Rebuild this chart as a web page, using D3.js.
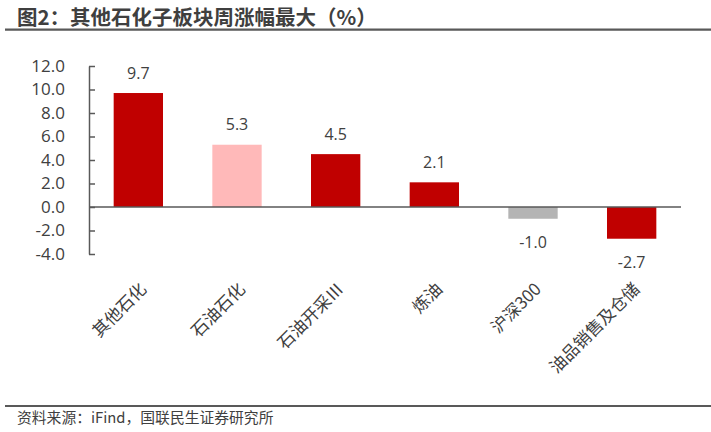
<!DOCTYPE html>
<html><head><meta charset="utf-8">
<script src="https://cdn.jsdelivr.net/npm/d3@7"></script>
<style>
html,body{margin:0;padding:0;background:#fff;}
svg{display:block;}
</style></head>
<body>
<svg id="chart" width="711" height="432"></svg>
<script>
const categories = ["其他石化","石油石化","石油开采Ⅲ","炼油","沪深300","油品销售及仓储"];
const values = [9.7, 5.3, 4.5, 2.1, -1.0, -2.7];
const barColors = ["#C00000","#FFB9B9","#C00000","#C00000","#B4B4B4","#C00000"];
const yTicks = [-4, -2, 0, 2, 4, 6, 8, 10, 12];
const titleText = "图2：其他石化子板块周涨幅最大（%）";
const sourceText = "资料来源：iFind，国联民生证券研究所";

const svg = d3.select("#chart");
const cjk = "'Noto Sans CJK SC','Noto Sans',sans-serif";
const num = "'Open Sans','Noto Sans',sans-serif";
const textColor = "#404040";
const fmt = d => d3.format(".1f")(d).replace("−","-");

// title
svg.append("text").attr("x",17).attr("y",24.5)
  .attr("font-family",cjk).attr("font-weight","bold").attr("font-size",20.5)
  .attr("fill","#3f3f3f").text(titleText);
svg.append("line").attr("x1",5).attr("x2",711).attr("y1",29.7).attr("y2",29.7)
  .attr("stroke","#595959").attr("stroke-width",2.2);

// footer
svg.append("line").attr("x1",5).attr("x2",711).attr("y1",406).attr("y2",406)
  .attr("stroke","#595959").attr("stroke-width",2);
svg.append("text").attr("x",17).attr("y",423)
  .attr("font-family",cjk).attr("font-size",14.8)
  .attr("fill",textColor).text(sourceText);

const x = d3.scaleBand().domain(categories).range([89,681]).padding(0.5).paddingOuter(0.25);
const y = d3.scaleLinear().domain([-4,12]).range([254,66]);

// bars
svg.append("g").selectAll("rect").data(values).join("rect")
  .attr("x",(d,i)=>x(categories[i]))
  .attr("width",x.bandwidth())
  .attr("y",d=>y(Math.max(0,d)))
  .attr("height",d=>Math.abs(y(d)-y(0)))
  .attr("fill",(d,i)=>barColors[i]);

// y axis
const yAxis = d3.axisLeft(y).tickValues(yTicks).tickFormat(fmt)
  .tickSizeInner(-6).tickSizeOuter(0).tickPadding(24);
const gy = svg.append("g").attr("transform","translate(89,0)").call(yAxis);
gy.select(".domain").attr("stroke","#595959").attr("stroke-width",1.5);
gy.selectAll(".tick line").attr("stroke","#595959").attr("stroke-width",1.5);
gy.selectAll(".tick text").attr("font-family",num).attr("font-size",17).attr("fill",textColor);

// zero baseline
svg.append("line").attr("x1",89).attr("x2",681).attr("y1",y(0)).attr("y2",y(0))
  .attr("stroke","#595959").attr("stroke-width",1.5);

// value labels
svg.append("g").selectAll("text").data(values).join("text")
  .attr("x",(d,i)=>x(categories[i])+x.bandwidth()/2)
  .attr("y",d=> d>=0 ? y(d)-20 : y(d)+24)
  .attr("dy","0.35em")
  .attr("text-anchor","middle")
  .attr("font-family",num).attr("font-size",16).attr("fill",textColor)
  .text(d=>fmt(d));

// category labels
svg.append("g").selectAll("text").data(categories).join("text")
  .attr("transform",d=>`translate(${x(d)+x.bandwidth()/2+5},286) rotate(-45)`)
  .attr("dy","0.35em")
  .attr("text-anchor","end")
  .attr("font-family",cjk).attr("font-size",17).attr("fill",textColor)
  .text(d=>d);
</script>
</body></html>
